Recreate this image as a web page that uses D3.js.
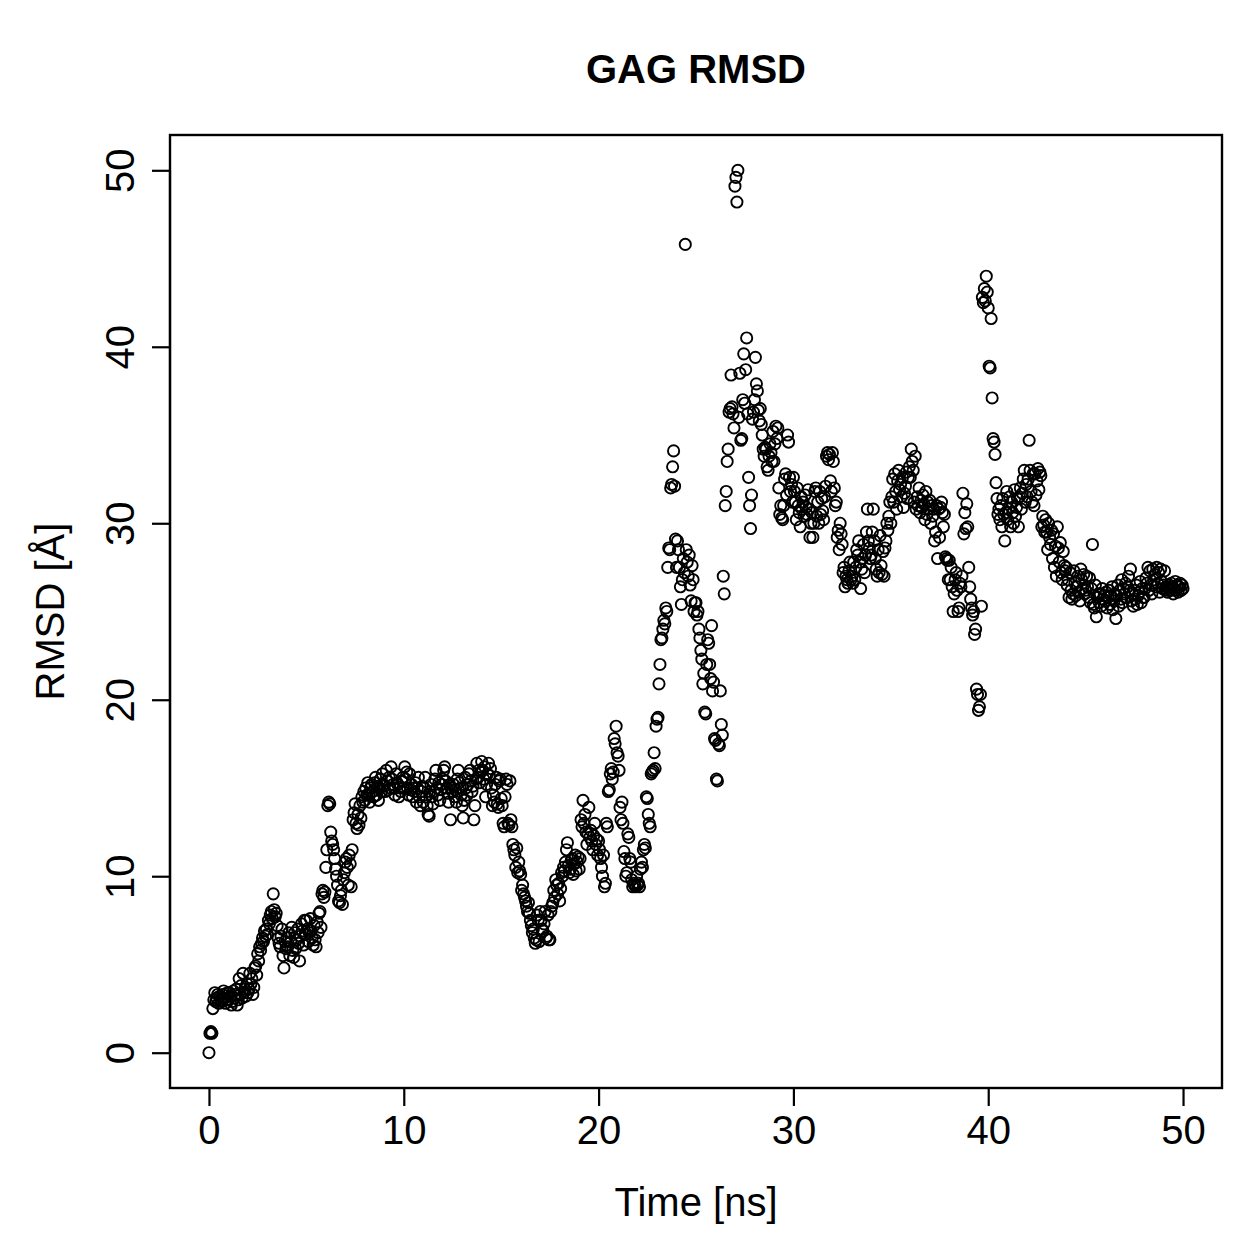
<!DOCTYPE html>
<html>
<head>
<meta charset="utf-8">
<script src="https://cdn.jsdelivr.net/npm/d3@7"></script>
<style>
  body { margin: 0; background: #fff; }
  text { font-family: "Liberation Sans", Arial, sans-serif; fill: #000; }
</style>
</head>
<body>
<div id="chart"></div>
<script>
// RMSD values, one row per nanosecond, one value every 0.05 ns
const rmsdByNs = [
  [0.0, 1.1, 1.2, 1.1, 2.5, 3.0, 3.4, 2.9, 3.1, 3.3, 2.8, 3.2, 3.0, 2.9, 3.3, 3.5, 3.1, 2.8, 3.0, 3.4],
  [3.0, 3.4, 3.2, 2.7, 2.9, 3.5, 3.1, 3.3, 3.6, 2.7, 3.0, 4.2, 3.3, 3.8, 3.1, 4.5, 3.4, 3.6, 3.2, 3.9],
  [3.4, 3.6, 4.5, 3.9, 4.2, 3.3, 3.7, 4.8, 4.9, 4.4, 5.6, 5.2, 6.0, 5.8, 6.2, 6.5, 6.3, 6.9, 6.6, 7.0],
  [6.7, 7.5, 7.3, 7.8, 8.0, 7.6, 9.0, 8.1, 7.7, 7.9, 7.2, 6.5, 6.2, 6.0, 6.6, 7.0, 5.5, 4.8, 6.3, 5.9],
  [6.5, 6.0, 6.8, 5.5, 6.3, 7.1, 5.8, 5.4, 6.8, 5.9, 6.4, 7.0, 6.2, 5.2, 6.6, 7.3, 6.9, 6.1, 7.5, 6.7],
  [7.5, 7.0, 6.3, 6.8, 7.6, 6.9, 6.5, 6.1, 7.2, 6.4, 6.0, 7.4, 6.8, 7.9, 8.0, 7.1, 9.0, 9.2, 8.8, 9.1],
  [10.5, 11.5, 14.0, 14.2, 14.1, 12.5, 12.0, 11.8, 11.5, 11.0, 10.4, 10.0, 9.5, 8.6, 8.5, 8.9, 9.2, 8.4, 9.8, 10.2],
  [10.8, 11.0, 10.5, 9.5, 11.2, 10.7, 9.4, 11.5, 13.2, 13.6, 14.1, 13.0, 12.7, 13.5, 12.9, 14.0, 13.3, 14.5, 14.2, 14.8],
  [14.3, 15.0, 14.6, 15.3, 14.6, 14.2, 15.0, 15.2, 14.8, 14.5, 15.3, 15.6, 14.6, 15.1, 14.3, 15.0, 15.5, 14.8, 15.8, 15.2],
  [15.1, 14.8, 16.0, 15.4, 14.9, 15.6, 15.0, 16.2, 15.5, 15.2, 15.0, 14.6, 15.8, 15.3, 15.2, 14.5, 15.0, 14.8, 15.4, 15.6],
  [15.0, 16.2, 15.5, 15.9, 15.0, 14.6, 15.8, 14.9, 15.2, 14.5, 15.0, 14.8, 15.3, 14.2, 15.0, 15.6, 14.5, 14.0, 14.8, 15.1],
  [14.2, 15.0, 15.6, 14.5, 14.0, 13.5, 13.4, 14.8, 15.2, 14.5, 14.1, 14.8, 15.5, 16.0, 15.0, 14.6, 15.3, 14.3, 14.9, 15.2],
  [15.5, 16.0, 16.2, 15.4, 15.0, 14.7, 14.2, 15.2, 13.2, 15.0, 14.8, 15.2, 14.5, 14.9, 14.2, 15.5, 16.0, 15.3, 15.0, 14.6],
  [14.0, 13.3, 14.3, 15.6, 15.0, 14.6, 15.2, 15.8, 16.0, 15.4, 14.8, 15.1, 13.2, 14.0, 15.5, 16.4, 15.6, 16.0, 15.3, 15.9],
  [16.5, 16.0, 15.5, 16.2, 14.5, 15.2, 15.8, 16.4, 15.7, 16.1, 15.0, 14.0, 14.6, 14.2, 15.2, 15.6, 14.1, 13.9, 15.4, 15.5],
  [14.4, 14.0, 13.0, 12.8, 14.5, 15.5, 15.2, 13.0, 12.9, 15.4, 13.2, 12.8, 11.8, 11.5, 11.2, 10.5, 11.6, 10.2, 10.8, 10.3],
  [10.1, 9.2, 9.5, 9.0, 8.8, 8.6, 8.3, 8.0, 8.5, 7.9, 7.5, 7.2, 6.8, 7.0, 6.5, 6.2, 6.4, 7.8, 7.5, 6.3],
  [8.0, 7.5, 7.0, 6.9, 7.3, 8.0, 6.5, 6.6, 7.8, 6.4, 6.4, 8.0, 8.3, 8.5, 9.2, 8.8, 9.8, 9.5, 9.0, 9.6],
  [8.6, 9.3, 10.2, 10.0, 10.5, 10.3, 10.8, 11.5, 11.9, 10.6, 10.2, 10.4, 10.9, 11.0, 10.1, 10.7, 11.2, 10.3, 10.8, 11.1],
  [10.4, 11.0, 13.2, 12.8, 14.3, 13.0, 13.5, 12.5, 11.8, 12.4, 13.9, 12.2, 12.6, 12.0, 11.5, 12.3, 13.0, 11.8, 12.1, 11.2],
  [12.0, 11.5, 11.0, 10.5, 10.0, 11.2, 9.4, 9.6, 13.0, 12.8, 14.8, 14.9, 15.8, 16.1, 15.5, 15.9, 17.8, 17.5, 18.5, 17.0],
  [16.8, 16.0, 13.9, 13.2, 14.2, 13.0, 11.4, 11.0, 10.0, 10.2, 12.4, 12.2, 11.0, 10.8, 9.8, 9.4, 9.6, 9.5, 9.4, 10.0],
  [9.5, 9.6, 9.4, 10.4, 10.8, 10.5, 11.5, 11.8, 11.6, 14.5, 14.4, 13.5, 13.0, 12.8, 15.8, 15.9, 16.0, 17.0, 16.1, 18.5],
  [18.9, 19.0, 20.9, 22.0, 23.4, 23.5, 24.0, 24.5, 24.3, 25.2, 25.0, 27.5, 28.6, 28.5, 32.0, 32.2, 33.2, 34.1, 32.1, 29.1],
  [27.5, 29.0, 28.5, 27.5, 26.4, 25.4, 26.8, 28.0, 27.2, 45.8, 28.5, 27.8, 27.0, 28.2, 26.5, 25.6, 27.6, 26.8, 25.0, 25.5],
  [25.5, 24.8, 25.0, 24.0, 23.5, 22.8, 22.3, 20.9, 21.5, 19.3, 19.2, 22.0, 23.4, 23.2, 22.0, 21.2, 24.2, 20.5, 21.0, 17.8],
  [17.7, 15.5, 15.4, 17.5, 17.4, 20.5, 18.6, 18.0, 27.0, 26.0, 31.0, 31.8, 33.5, 34.2, 36.3, 36.5, 38.4, 36.6, 36.2, 35.4],
  [49.1, 49.6, 48.2, 50.0, 36.0, 38.5, 34.7, 34.8, 37.0, 39.6, 36.8, 38.7, 40.5, 36.2, 32.6, 31.0, 29.7, 31.6, 35.9, 36.3],
  [37.0, 39.4, 37.9, 37.5, 36.4, 35.8, 36.5, 35.6, 35.0, 34.2, 33.8, 34.3, 34.2, 33.2, 33.0, 33.8, 34.5, 34.0, 33.5, 35.2],
  [33.5, 34.5, 35.5, 34.8, 35.4, 32.0, 30.5, 31.0, 30.3, 30.2, 31.0, 32.5, 32.8, 31.6, 35.0, 34.6, 32.6, 31.8, 32.2, 31.2],
  [32.6, 31.8, 31.2, 30.2, 32.0, 31.0, 30.6, 29.8, 31.5, 30.8, 31.2, 30.4, 31.6, 30.9, 30.5, 31.9, 30.8, 29.2, 30.0, 30.6],
  [29.2, 30.0, 31.8, 32.0, 30.4, 31.2, 30.0, 31.8, 30.5, 31.4, 30.7, 30.2, 31.5, 32.1, 33.8, 34.0, 33.6, 33.9, 32.4, 31.8],
  [34.0, 33.5, 32.0, 31.0, 31.2, 29.2, 29.6, 28.5, 30.0, 29.4, 28.8, 27.2, 27.5, 26.4, 27.0, 26.8, 26.6, 27.3, 27.8, 26.8],
  [27.0, 26.6, 27.8, 26.8, 27.5, 28.5, 28.2, 29.0, 27.8, 26.3, 27.4, 28.0, 28.8, 27.2, 28.2, 29.5, 30.8, 29.0, 28.6, 28.0],
  [28.2, 29.5, 30.8, 29.0, 28.0, 27.4, 27.0, 28.5, 27.2, 29.3, 27.6, 27.1, 28.4, 27.0, 28.6, 29.0, 30.0, 29.6, 30.4, 31.2],
  [30.0, 31.5, 32.5, 31.2, 32.8, 31.8, 30.8, 32.4, 33.0, 31.9, 32.2, 31.5, 32.6, 30.9, 31.7, 32.1, 32.9, 31.4, 32.6, 33.2],
  [32.6, 34.2, 33.5, 33.0, 31.2, 33.8, 30.8, 31.5, 31.0, 32.0, 30.6, 31.3, 30.9, 31.6, 31.1, 30.2, 31.8, 30.5, 31.2, 30.8],
  [31.3, 30.0, 31.0, 30.4, 30.8, 29.0, 29.5, 31.0, 28.0, 30.8, 29.2, 30.9, 31.2, 30.6, 29.8, 30.5, 28.1, 28.0, 27.9, 26.8],
  [27.9, 26.8, 27.5, 26.4, 25.0, 26.0, 26.8, 27.2, 26.2, 25.0, 25.2, 26.6, 26.4, 27.0, 31.7, 29.4, 30.6, 29.7, 31.1, 29.8],
  [27.5, 26.4, 25.7, 25.2, 24.8, 25.0, 23.7, 24.0, 20.6, 20.3, 19.4, 19.6, 20.3, 25.3, 42.8, 42.5, 43.3, 42.6, 44.0, 43.1],
  [42.2, 38.9, 38.8, 41.6, 37.1, 34.8, 34.6, 33.9, 32.3, 31.4, 30.5, 30.8, 30.2, 31.0, 29.8, 31.4, 30.5, 29.0, 30.6, 31.8],
  [30.2, 30.8, 31.5, 29.8, 31.2, 30.6, 30.0, 31.9, 30.4, 30.9, 31.4, 29.8, 31.5, 32.0, 30.8, 31.7, 32.5, 33.0, 31.2, 32.2],
  [31.5, 32.5, 34.7, 33.0, 31.8, 31.2, 32.8, 31.0, 32.8, 31.6, 32.4, 33.1, 31.9, 32.9, 32.7, 29.8, 30.4, 29.9, 29.5, 30.2],
  [29.5, 28.5, 30.0, 29.2, 28.8, 29.6, 28.0, 29.4, 27.5, 28.7, 27.0, 29.8, 28.6, 27.8, 28.9, 27.2, 26.8, 28.4, 27.6, 27.3],
  [27.5, 26.5, 26.8, 25.8, 27.2, 26.2, 25.7, 26.0, 27.3, 26.6, 25.9, 26.4, 27.0, 26.1, 25.6, 27.4, 26.8, 26.3, 27.1, 26.0],
  [26.2, 27.0, 26.4, 25.8, 26.9, 25.5, 26.3, 28.8, 25.4, 25.2, 26.5, 24.7, 25.8, 26.0, 25.5, 26.0, 25.3, 26.3, 25.7, 25.9],
  [25.6, 26.1, 25.2, 25.8, 26.2, 25.4, 25.9, 26.4, 25.1, 25.6, 26.0, 24.6, 25.9, 26.5, 25.3, 26.2, 25.7, 26.8, 25.5, 26.3],
  [26.0, 26.6, 25.8, 26.4, 27.0, 26.2, 27.4, 25.6, 26.0, 25.3, 26.2, 25.7, 26.5, 25.4, 25.9, 26.1, 26.7, 25.5, 26.3, 25.8],
  [25.8, 26.3, 26.9, 26.6, 27.5, 26.2, 27.3, 26.5, 26.0, 27.4, 26.8, 27.1, 26.4, 27.5, 26.6, 27.2, 26.1, 27.4, 26.7, 26.3],
  [26.5, 27.3, 26.2, 26.4, 26.1, 26.3, 26.5, 26.2, 26.6, 26.4, 26.0, 26.3, 26.7, 26.2, 26.5, 26.1, 26.4, 26.6, 26.2, 26.5, 26.3]
];
const timeStep = 0.05;
const xTicks = [0, 10, 20, 30, 40, 50];
const yTicks = [0, 10, 20, 30, 40, 50];

// flatten: row k starts at k ns
const data = [];
rmsdByNs.forEach((row, k) => {
  row.forEach((v, j) => data.push({ time: k + j * timeStep, value: v }));
});

// set the dimensions and margins of the graph
const W = 1259, H = 1259;
const margin = {top: 135, right: 37, bottom: 171, left: 170},
  width = W - margin.left - margin.right,
  height = H - margin.top - margin.bottom;

const svg = d3.select("#chart")
  .append("svg")
  .attr("width", W)
  .attr("height", H);

const g = svg.append("g")
  .attr("transform", `translate(${margin.left},${margin.top})`);

// R style 4% padding on each side
const x = d3.scaleLinear()
  .domain([-2, 52])
  .range([0, width]);
const y = d3.scaleLinear()
  .domain([-2, 52])
  .range([height, 0]);

// X axis
const xAxis = g.append("g")
  .attr("transform", `translate(0, ${height})`)
  .call(d3.axisBottom(x).tickValues(xTicks).tickSize(18).tickPadding(10));
xAxis.select(".domain").attr("d", `M${x(0)},0H${x(50)}`);

// Y axis
const yAxis = g.append("g")
  .call(d3.axisLeft(y).tickValues(yTicks).tickSize(18).tickPadding(10));
yAxis.select(".domain").attr("d", `M0,${y(0)}V${y(50)}`);
yAxis.selectAll(".tick text")
  .attr("transform", "rotate(-90)")
  .attr("x", 0)
  .attr("y", -36)
  .attr("dy", 0)
  .attr("text-anchor", "middle");

g.selectAll(".domain, .tick line").attr("stroke", "#000").attr("stroke-width", 2.2);
g.selectAll(".tick text")
  .attr("font-family", "Liberation Sans, Arial, sans-serif")
  .attr("font-size", 40)
  .attr("fill", "#000");

// plot box
g.append("rect")
  .attr("width", width)
  .attr("height", height)
  .attr("fill", "none")
  .attr("stroke", "#000")
  .attr("stroke-width", 2.4);

// points
g.append("g")
  .selectAll("circle")
  .data(data)
  .join("circle")
  .attr("cx", d => x(d.time))
  .attr("cy", d => y(d.value))
  .attr("r", 5.6)
  .attr("fill", "none")
  .attr("stroke", "#000")
  .attr("stroke-width", 1.9);

// title and labels
svg.append("text")
  .attr("x", margin.left + width / 2)
  .attr("y", 83)
  .attr("text-anchor", "middle")
  .attr("font-size", 40)
  .attr("font-weight", "bold")
  .text("GAG RMSD");

svg.append("text")
  .attr("x", margin.left + width / 2)
  .attr("y", 1216)
  .attr("text-anchor", "middle")
  .attr("font-size", 40)
  .text("Time [ns]");

svg.append("text")
  .attr("transform", `translate(64, ${margin.top + height / 2}) rotate(-90)`)
  .attr("text-anchor", "middle")
  .attr("font-size", 40)
  .text("RMSD [Å]");
</script>
</body>
</html>
